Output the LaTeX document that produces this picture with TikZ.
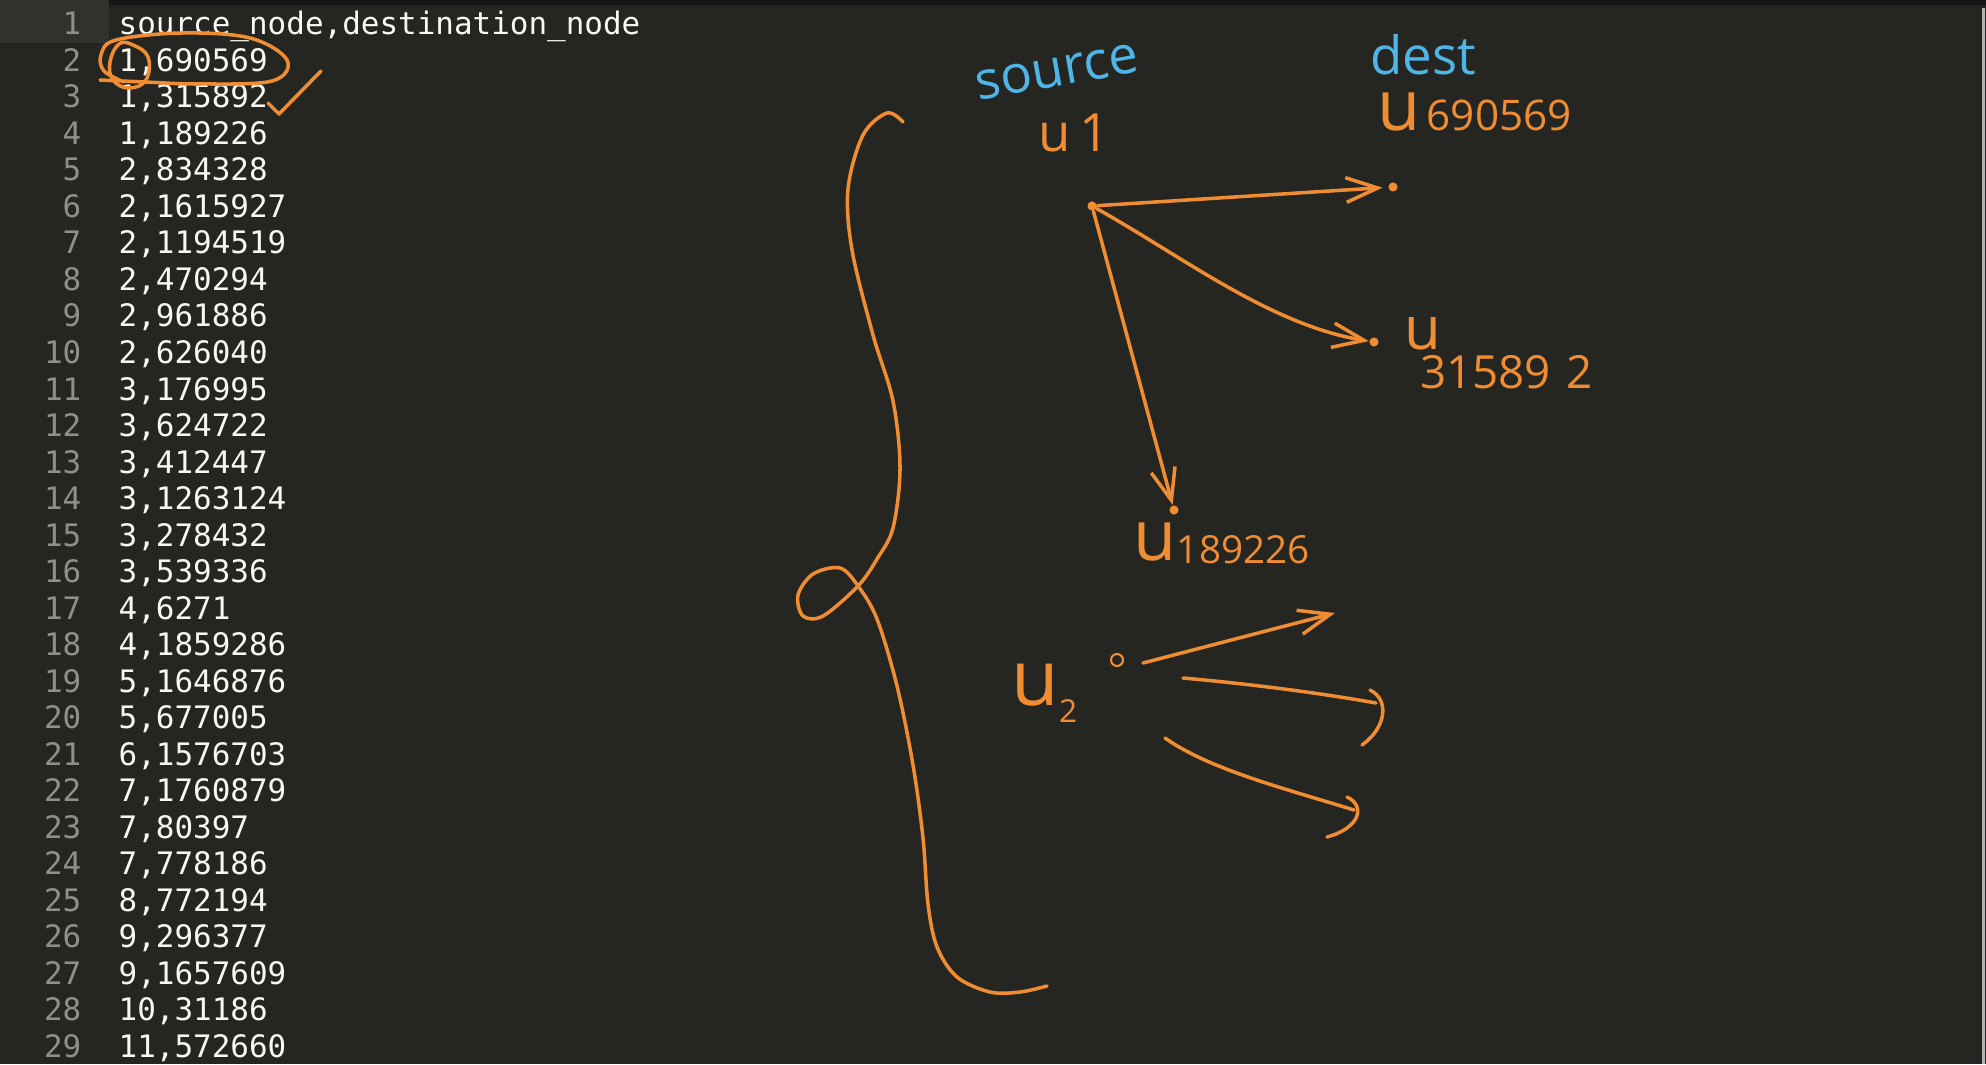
\documentclass[tikz,border=0pt]{standalone}
\usepackage{fontspec}
\usetikzlibrary{arrows.meta}
\newfontfamily\codefont{DejaVu Sans Mono}
\newfontfamily\handfont{Open Sans}
\definecolor{editorbg}{HTML}{252621}
\definecolor{topbar}{HTML}{161616}
\definecolor{gutterhl}{HTML}{31312D}
\definecolor{lnumgray}{HTML}{8F908A}
\definecolor{codetext}{HTML}{F8F8F2}
\definecolor{pen}{HTML}{F08C32}
\definecolor{bluepen}{HTML}{4FB4E6}

\begin{document}
\begin{tikzpicture}[x=0.01cm,y=0.01cm]
	\tikzset{lnum/.style={font=\codefont\fontsize{8.8}{10}\selectfont, text=lnumgray, anchor=base east, inner sep=0pt}};
	\tikzset{code/.style={font=\codefont\fontsize{8.8}{10}\selectfont, text=codetext, anchor=base west, inner sep=0pt}};
	\tikzset{hand/.style={font=\handfont, text=pen, inner sep=0pt}};
	\tikzset{ink/.style={draw=pen, line width=1pt, line cap=round, line join=round}};
	\tikzset{dot/.style={circle, fill=pen, inner sep=0pt, minimum size=2.6pt}};
	\tikzset{ring/.style={circle, draw=pen, line width=0.6pt, inner sep=0pt, minimum size=3.4pt}};
	\tikzset{barb/.style={-{Straight Barb[length=9pt,width=7pt,line width=1pt]}}};

	\useasboundingbox (0,0) rectangle (1986,-1064);
	\fill[editorbg] (0,0) rectangle (1986,-1064);
	\fill[topbar] (109,0) rectangle (1986,-5);
	\fill[gutterhl] (0,0) rectangle (109,-43);
	\fill[gray!60] (1982,-8) rectangle (1985,-1064);

	% the csv file
	\node[lnum] (n1) at (82,-35) {1};
	\node[code] (c1) at (118,-35) {source\_node,destination\_node};
	\node[lnum] (n2) at (82,-71.5) {2};
	\node[code] (c2) at (118,-71.5) {1,690569};
	\node[lnum] (n3) at (82,-108) {3};
	\node[code] (c3) at (118,-108) {1,315892};
	\node[lnum] (n4) at (82,-144.5) {4};
	\node[code] (c4) at (118,-144.5) {1,189226};
	\node[lnum] (n5) at (82,-181) {5};
	\node[code] (c5) at (118,-181) {2,834328};
	\node[lnum] (n6) at (82,-217.5) {6};
	\node[code] (c6) at (118,-217.5) {2,1615927};
	\node[lnum] (n7) at (82,-254) {7};
	\node[code] (c7) at (118,-254) {2,1194519};
	\node[lnum] (n8) at (82,-290.5) {8};
	\node[code] (c8) at (118,-290.5) {2,470294};
	\node[lnum] (n9) at (82,-327) {9};
	\node[code] (c9) at (118,-327) {2,961886};
	\node[lnum] (n10) at (82,-363.5) {10};
	\node[code] (c10) at (118,-363.5) {2,626040};
	\node[lnum] (n11) at (82,-400) {11};
	\node[code] (c11) at (118,-400) {3,176995};
	\node[lnum] (n12) at (82,-436.5) {12};
	\node[code] (c12) at (118,-436.5) {3,624722};
	\node[lnum] (n13) at (82,-473) {13};
	\node[code] (c13) at (118,-473) {3,412447};
	\node[lnum] (n14) at (82,-509.5) {14};
	\node[code] (c14) at (118,-509.5) {3,1263124};
	\node[lnum] (n15) at (82,-546) {15};
	\node[code] (c15) at (118,-546) {3,278432};
	\node[lnum] (n16) at (82,-582.5) {16};
	\node[code] (c16) at (118,-582.5) {3,539336};
	\node[lnum] (n17) at (82,-619) {17};
	\node[code] (c17) at (118,-619) {4,6271};
	\node[lnum] (n18) at (82,-655.5) {18};
	\node[code] (c18) at (118,-655.5) {4,1859286};
	\node[lnum] (n19) at (82,-692) {19};
	\node[code] (c19) at (118,-692) {5,1646876};
	\node[lnum] (n20) at (82,-728.5) {20};
	\node[code] (c20) at (118,-728.5) {5,677005};
	\node[lnum] (n21) at (82,-765) {21};
	\node[code] (c21) at (118,-765) {6,1576703};
	\node[lnum] (n22) at (82,-801.5) {22};
	\node[code] (c22) at (118,-801.5) {7,1760879};
	\node[lnum] (n23) at (82,-838) {23};
	\node[code] (c23) at (118,-838) {7,80397};
	\node[lnum] (n24) at (82,-874.5) {24};
	\node[code] (c24) at (118,-874.5) {7,778186};
	\node[lnum] (n25) at (82,-911) {25};
	\node[code] (c25) at (118,-911) {8,772194};
	\node[lnum] (n26) at (82,-947.5) {26};
	\node[code] (c26) at (118,-947.5) {9,296377};
	\node[lnum] (n27) at (82,-984) {27};
	\node[code] (c27) at (118,-984) {9,1657609};
	\node[lnum] (n28) at (82,-1020.5) {28};
	\node[code] (c28) at (118,-1020.5) {10,31186};
	\node[lnum] (n29) at (82,-1057) {29};
	\node[code] (c29) at (118,-1057) {11,572660};

	% marks on row 2 and 3
	\draw[ink] plot[smooth, tension=0.6] coordinates {(124,-82) (104,-71) (101,-55) (116,-40) (182,-33) (250,-38) (287,-60) (272,-81) (200,-84) (145,-82) (100,-80)};
	\draw[ink] plot[smooth cycle, tension=0.7] coordinates {(110,-62) (119,-44) (133,-45) (148,-57) (146,-80) (129,-88) (113,-80)};
	\draw[ink] (268,-103) -- (279,-114) -- (321,-71);

	% the brace
	\draw[ink] plot[smooth, tension=0.55] coordinates {(903,-122) (887,-113) (863,-135) (848,-189) (852,-250) (873,-335) (893,-401) (900,-468) (893,-528) (877,-559) (858,-586) (823,-616) (803,-616) (798,-595) (813,-574) (840,-568) (858,-586) (877,-619) (897,-686) (913,-765) (923,-838) (928,-904) (937,-947) (957,-977) (990,-992) (1020,-992) (1047,-986)};

	% headings
	\node[hand, text=bluepen, font=\handfont\fontsize{15}{15}\selectfont, rotate=10] (src) at (1057,-72) {source};
	\node[hand, text=bluepen, font=\handfont\fontsize{15}{15}\selectfont] (dst) at (1423,-55) {dest};

	% u1 and its three edges
	\node[dot] (u1) at (1092,-206) {};
	\node[dot] (v1) at (1393,-187) {};
	\node[dot] (v2) at (1374,-342) {};
	\node[dot] (v3) at (1174,-510) {};
	\node[hand, font=\handfont\fontsize{15}{15}\selectfont] (lu1) at (1074,-133) {u\,1};
	\node[hand, anchor=base west] (lv1) at (1377,-131) {{\fontsize{20}{20}\selectfont u}\,{\fontsize{12}{12}\selectfont 690569}};
	\node[hand, anchor=base west] (lv2) at (1404,-350) {{\fontsize{17}{17}\selectfont u}\kern-6pt\raisebox{-11pt}{\fontsize{13}{13}\selectfont 31589\,\,2}};
	\node[hand, anchor=base west] (lv3) at (1133,-560) {{\fontsize{20}{20}\selectfont u}\raisebox{-1pt}{\fontsize{11}{11}\selectfont 189226}};

	\draw[ink, barb, shorten >=1.5pt] (u1) -- (v1);
	\draw[ink, barb] (u1) .. controls (1180,-255) and (1270,-325) .. (v2);
	\draw[ink, barb] (u1) -- (v3);

	% u2 and its edges
	\node[ring] (u2) at (1117,-660) {};
	\node[hand, anchor=base west] (lu2) at (1011,-705) {{\fontsize{22}{22}\selectfont u}\raisebox{-5pt}{\fontsize{9}{9}\selectfont 2}};
	\coordinate (a1s) at (1143,-663);
	\coordinate (a1e) at (1335,-613);
	\coordinate (a2s) at (1183,-678);
	\coordinate (a2e) at (1376,-703);
	\coordinate (a3s) at (1165,-738);
	\coordinate (a3e) at (1354,-810);
	\draw[ink, barb] (a1s) -- (a1e);
	\draw[ink] (a2s) .. controls (1250,-684) and (1320,-693) .. (a2e);
	\draw[ink] (1370,-690) .. controls (1390,-700) and (1386,-728) .. (1362,-745);
	\draw[ink] (a3s) .. controls (1210,-770) and (1290,-790) .. (a3e);
	\draw[ink] (1347,-797) .. controls (1366,-806) and (1360,-828) .. (1327,-837);
\end{tikzpicture}
\end{document}
